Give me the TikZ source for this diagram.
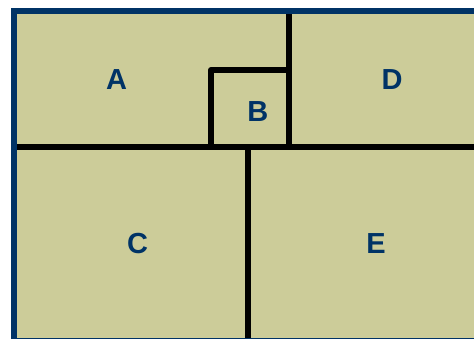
\documentclass[tikz,border=0pt]{standalone}
\usepackage{fontspec}
\setmainfont{Liberation Sans}
\begin{document}
\begin{tikzpicture}[x=1pt,y=-1pt,
  divider/.style={draw=black,line width=5.8pt,line join=round},
  lbl/.style={font=\bfseries\fontsize{29}{29}\selectfont,text=labelcol,inner sep=0pt}]
\definecolor{panel}{RGB}{204,204,153}
\definecolor{framecol}{RGB}{0,51,102}
\definecolor{labelcol}{RGB}{0,51,102}
\useasboundingbox (0,0) rectangle (474,339);
\clip (0,0) rectangle (474,339);
\fill[panel] (13.7,10.9) rectangle (490,341);
% dividers
\coordinate (hl) at (14,147.2);
\coordinate (hr) at (490,147.2);
\coordinate (vbt) at (248,147.2);
\coordinate (vbb) at (248,350);
\coordinate (vtt) at (289,12);
\coordinate (vtb) at (289,147.2);
\coordinate (bbl) at (211,147.2);
\coordinate (btl) at (211,70);
\coordinate (btr) at (289,70);
\draw[divider] (hl) -- (hr);
\draw[divider] (vbt) -- (vbb);
\draw[divider] (vtt) -- (vtb);
\draw[divider] (bbl) -- (btl) -- (btr);
% frame on top
\draw[draw=framecol,line width=5.6pt] (13.7,10.9) rectangle (490,341);
% labels
\node[lbl] (A) at (116.5,79.5) {A};
\node[lbl] (B) at (257.8,111.5) {B};
\node[lbl] (D) at (392,79.5) {D};
\node[lbl] (C) at (137.5,243.2) {C};
\node[lbl] (E) at (376,243.5) {E};
\end{tikzpicture}
\end{document}
